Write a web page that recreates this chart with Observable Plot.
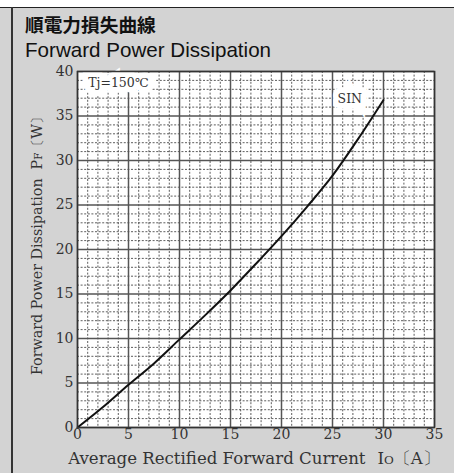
<!DOCTYPE html>
<html><head><meta charset="utf-8">
<script src="https://cdn.jsdelivr.net/npm/d3@7"></script>
<script src="https://cdn.jsdelivr.net/npm/@observablehq/plot@0.6"></script>
<style>
body{margin:0;background:#fff;}
#page{position:absolute;left:0;top:0;width:454px;height:473px;overflow:hidden;}
#panel{position:absolute;left:0;top:7px;width:454px;height:466px;background:#d3d3d3;border-top:1.5px solid #222;box-sizing:border-box;}
#vline{position:absolute;left:11px;top:7px;width:1.5px;height:466px;background:#333;}
#t1{position:absolute;left:25px;top:15px;font-family:"Noto Sans CJK JP";font-weight:bold;font-size:18.7px;color:#111;line-height:1;white-space:nowrap;}
#t2{position:absolute;left:25px;top:40px;font-family:"Liberation Sans";font-size:20.6px;color:#111;line-height:1;white-space:nowrap;}
#chart{position:absolute;left:0;top:60px;}
</style></head>
<body><div id="page"><div id="panel"></div><div id="vline"></div>
<div id="t1">順電力損失曲線</div>
<div id="t2">Forward Power Dissipation</div>
<div id="chart"></div></div>
<script>
const current = [0, 2.5, 5, 7.5, 10, 12.5, 15, 17.5, 20, 22.5, 25, 27.5, 30];
const power   = [0, 2.3, 4.8, 7.2, 9.9, 12.6, 15.4, 18.4, 21.5, 24.8, 28.3, 32.4, 36.8];
const xTicks = [0, 5, 10, 15, 20, 25, 30, 35];
const yTicks = [0, 5, 10, 15, 20, 25, 30, 35, 40];
const noteText = ["Tj=150℃", "SIN"];
const noteX = [1.05, 25.5];
const noteY = [38.7, 36.9];

const curve = current.map((x, i) => ({x, y: power[i]}));
const notes = noteText.map((t, i) => ({t, x: noteX[i], y: noteY[i]}));
const xMinor = d3.range(0, 36, 1).filter(v => v % 5 !== 0);
const yMinor = d3.range(0, 41, 1).filter(v => v % 5 !== 0);

const plot = Plot.plot({
  width: 454, height: 413,
  marginTop: 11, marginBottom: 46, marginLeft: 77, marginRight: 20,
  style: {fontFamily: "DejaVu Serif", fontSize: "14px", background: "transparent", color: "#333"},
  x: {domain: [0, 35]},
  y: {domain: [0, 40]},
  marks: [
    Plot.frame({fill: "white", stroke: "none"}),
    Plot.ruleX(xMinor, {stroke: "#333", strokeDasharray: "2,1.6", strokeWidth: 0.8}),
    Plot.ruleY(yMinor, {stroke: "#333", strokeDasharray: "2,1.6", strokeWidth: 0.8}),
    Plot.ruleX(xTicks, {stroke: "#555", strokeWidth: 1.5}),
    Plot.ruleY(yTicks, {stroke: "#555", strokeWidth: 1.5}),
    Plot.line(curve, {x: "x", y: "y", curve: "monotone-x", stroke: "#111", strokeWidth: 2}),
    Plot.text(notes, {x: "x", y: "y", text: "t", textAnchor: "start", fontSize: 12.5, fill: "#333",
      stroke: "white", strokeWidth: 11, strokeLinejoin: "miter", paintOrder: "stroke"}),
    Plot.frame({stroke: "#333", strokeWidth: 1.5}),
    Plot.axisX({ticks: xTicks, tickSize: 0, tickPadding: 2, fontSize: 14,
      label: "Average Rectified Forward Current Io〔A〕", labelAnchor: "center", labelArrow: "none", labelOffset: 36}),
    Plot.axisY({ticks: yTicks, tickSize: 0, tickPadding: 4, fontSize: 14,
      label: "Forward Power Dissipation PF〔W〕", labelAnchor: "center", labelArrow: "none", labelOffset: 46})
  ]
});
document.getElementById("chart").appendChild(plot);

// small-cap subscripts in axis labels
d3.select(plot).selectAll("text").each(function() {
  const el = d3.select(this);
  const s = el.text();
  if (s.startsWith("Average")) {
    el.style("font-size", "16.6px").text(null);
    el.attr("transform", (el.attr("transform") || "") + " translate(-2,0)");
    el.append("tspan").text("Average Rectified Forward Current");
    el.append("tspan").attr("dx", 12).text("I");
    el.append("tspan").attr("font-size", "0.72em").text("O");
    el.append("tspan").text("〔A〕");
  } else if (s.startsWith("Forward Power")) {
    el.style("font-size", "14.3px").text(null);
    el.attr("transform", (el.attr("transform") || "") + " translate(7,0)");
    el.append("tspan").text("Forward Power Dissipation");
    el.append("tspan").attr("dx", 9).text("P");
    el.append("tspan").attr("font-size", "0.72em").text("F");
    el.append("tspan").text("〔W〕");
  }
});
</script></body></html>
